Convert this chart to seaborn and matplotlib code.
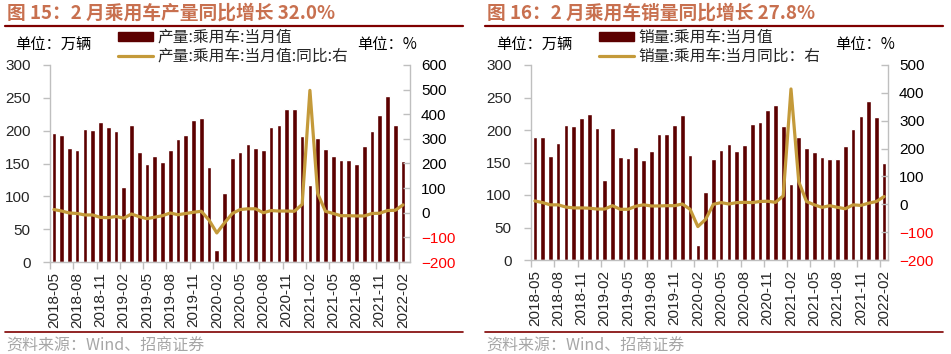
import numpy as np
import pandas as pd
import matplotlib
matplotlib.use("Agg")
import matplotlib.pyplot as plt
from matplotlib.lines import Line2D
from matplotlib.patches import Patch
import seaborn as sns

# ---------------- data ----------------
months = list(pd.period_range("2018-05", "2022-02", freq="M").strftime("%Y-%m"))

prod_vals = [196, 193, 173, 171, 203, 201, 213, 206,
             200, 114, 209, 167, 149, 161, 153, 170, 187, 194, 217, 219,
             144, 19, 105, 159, 167, 180, 173, 170, 205, 209, 233, 233,
             192, 117, 189, 172, 162, 156, 155, 150, 177, 200, 224, 253,
             208, 154]
prod_yoy = [13, 7, -1, -3, -9, -9, -19, -20,
            -15, -22, -5, -16, -24, -18, -12, -1, -8, -3, 2, 6,
            -30, -82, -41, -3, 13, 16, 16, 0, 9, 7, 7, 6,
            34, 497, 78, 6, -3, -12, -12, -13, -13, -3, -2, 9,
            10, 32.0]

sales_vals = [190, 189, 160, 180, 207, 206, 218, 225,
              203, 123, 203, 159, 157, 174, 154, 167, 194, 194, 207, 223,
              162, 23, 105, 155, 169, 178, 168, 177, 210, 212, 231, 239,
              206, 117, 189, 172, 166, 158, 156, 156, 176, 202, 221, 244,
              220, 150]
sales_yoy = [12, 6, -2, -2, -10, -13, -13, -14,
             -17, -17, -5, -18, -18, -7, -2, -6, -6, -5, -5, 1,
             -18, -80, -54, 0, 6, 1, 6, 7, 6, 10, 11, 7,
             30, 414, 81, 10, -2, -11, -5, -11, -16, -2, -4, 4,
             10, 27.8]

titles = ["图 15：2 月乘用车产量同比增长 32.0%", "图 16：2 月乘用车销量同比增长 27.8%"]
bar_labels = ["产量:乘用车:当月值", "销量:乘用车:当月值"]
line_labels = ["产量:乘用车:当月值:同比:右", "销量:乘用车:当月同比：右"]
left_unit = "单位：万辆"
right_unit = "单位：%"
source = "资料来源：Wind、招商证券"

# ---------------- style ----------------
sns.set_style("white")
plt.rcParams["font.family"] = ["Liberation Sans", "Noto Sans CJK SC", "DejaVu Sans"]
CJK = ["Noto Sans CJK SC", "DejaVu Sans"]

BAR = "#5C0000"
GOLD = "#C49A3A"
TITLE = "#C8704F"
RULE = "#7F0000"
SPINE = "#BFBFBF"

W, H = 951, 354
fig = plt.figure(figsize=(W / 100, H / 100), dpi=100)


def fx(px):
    return px / W


def fy(py):
    return 1 - py / H


def panel(x0, rl, rr, bottom, vals, yoy, y2max, xlim, title, blab, llab):
    ax = fig.add_axes([fx(rl), fy(bottom), fx(rr - rl), fy(65) - fy(bottom)])
    df = pd.DataFrame({"month": months, "val": vals, "yoy": yoy,
                       "pos": np.arange(len(months))})
    sns.barplot(data=df, x="month", y="val", color=BAR, saturation=1,
                width=0.6, ax=ax, zorder=2)
    ax2 = ax.twinx()
    sns.lineplot(data=df, x="pos", y="yoy", color=GOLD, lw=2.3, ax=ax2)

    ax.set_xlim(*xlim)
    ax.set_ylim(0, 300)
    ax.set_yticks(np.arange(0, 301, 50))
    ax2.set_ylim(-200, y2max)
    ax2.set_yticks(np.arange(-200, y2max + 1, 100))
    ax.set_xlabel("")
    ax.set_ylabel("")
    ax2.set_xlabel("")
    ax2.set_ylabel("")

    ax.set_xticks(np.arange(0, len(months), 3))
    ax.set_xticklabels(months[::3], rotation=90, fontsize=11)
    ax.set_xticks(np.arange(-0.5, len(months), 3), minor=True)
    ax.tick_params(axis="x", which="major", length=0, pad=7)
    ax.tick_params(axis="x", which="minor", length=5, width=1, color=SPINE,
                   direction="out", bottom=True)
    ax.tick_params(axis="y", labelsize=11, length=5, width=1, color=SPINE,
                   direction="out", left=True, pad=9)
    ax2.tick_params(axis="y", labelsize=11, length=5, width=1, color=SPINE,
                    direction="in", right=True, pad=8)
    for lab, v in zip(ax2.get_yticklabels(), ax2.get_yticks()):
        lab.set_color("#FF0000" if v < 0 else "black")

    for a in (ax, ax2):
        for s in a.spines.values():
            s.set_color(SPINE)
            s.set_linewidth(1)
        a.spines["top"].set_visible(False)
        a.grid(False)
    ax.spines["right"].set_visible(False)
    ax2.spines["left"].set_visible(False)
    ax2.spines["bottom"].set_visible(False)

    # title and rules
    fig.text(fx(x0 + 2), fy(13), title, family=CJK, fontsize=13.5,
             weight="bold", color=TITLE, va="center", ha="left")
    fig.add_artist(Line2D([fx(x0), fx(x0 + 458)], [fy(26), fy(26)],
                          color=RULE, lw=1.6))
    fig.add_artist(Line2D([fx(x0), fx(x0 + 458)], [fy(332), fy(332)],
                          color=RULE, lw=1.2))
    fig.text(fx(x0 + 1), fy(346), source, family=CJK, fontsize=11.5,
             color="#A6A6A6", va="center", ha="left")

    # units
    fig.text(fx(rl - 35), fy(45), left_unit, family=CJK, fontsize=11,
             color="black", va="center", ha="left")
    fig.text(fx(rr - 53), fy(45), right_unit, family=CJK, fontsize=11,
             color="black", va="center", ha="left")

    # legend
    handles = [Patch(facecolor=BAR, edgecolor=BAR),
               Line2D([0], [0], color=GOLD, lw=2.3)]
    fig.legend(handles, [blab, llab], loc="upper left",
               bbox_to_anchor=(fx(rl + 68), fy(29)), frameon=False,
               prop={"family": CJK, "size": 11.3}, handlelength=2.2,
               handleheight=0.5, handletextpad=0.3, labelspacing=0.12,
               borderpad=0, borderaxespad=0)
    return ax, ax2


panel(5, 50, 410, 262, prod_vals, prod_yoy, 600, (-0.5, 45.9),
      titles[0], bar_labels[0], line_labels[0])
panel(485, 531, 888, 260, sales_vals, sales_yoy, 500, (-0.5, 45.5),
      titles[1], bar_labels[1], line_labels[1])

fig.savefig("out.png", dpi=100)
